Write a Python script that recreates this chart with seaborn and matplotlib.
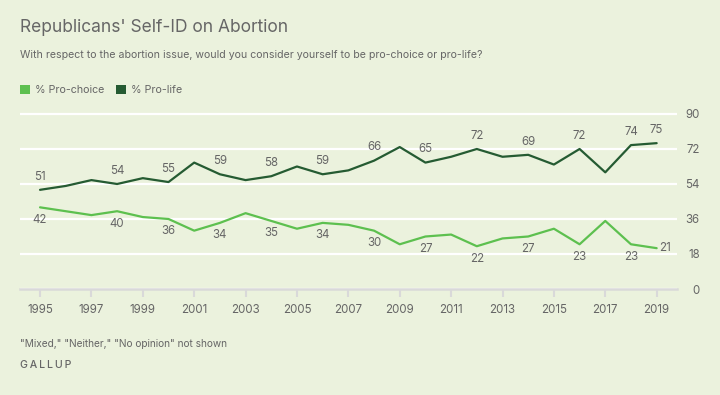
import matplotlib
matplotlib.use('Agg')
import matplotlib.pyplot as plt
import seaborn as sns
import pandas as pd
from matplotlib.patches import Patch

years = list(range(1995, 2020))
pro_choice = [42, 40, 38, 40, 37, 36, 30, 34, 39, 35, 31, 34, 33, 30, 23, 27, 28, 22, 26, 27, 31, 23, 35, 23, 21]
pro_life = [51, 53, 56, 54, 57, 55, 65, 59, 56, 58, 63, 59, 61, 66, 73, 65, 68, 72, 68, 69, 64, 72, 60, 74, 75]
labeled_years = [1995, 1998, 2000, 2002, 2004, 2006, 2008, 2010, 2012, 2014, 2016, 2018, 2019]
y_ticks = [0, 18, 36, 54, 72, 90]
x_ticks = list(range(1995, 2020, 2))

bg = '#EBF2DD'
c_choice = '#5DC04F'
c_life = '#255B32'
grey = '#666666'

df = pd.DataFrame({
    'year': years * 2,
    'pct': pro_choice + pro_life,
    'series': ['% Pro-choice'] * len(years) + ['% Pro-life'] * len(years),
})

sns.set_theme(style='white')
plt.rcParams['font.family'] = ['Inter', 'DejaVu Sans']

fig = plt.figure(figsize=(7.2, 3.95), dpi=100, facecolor=bg)
ax = fig.add_axes([20 / 720, 1 - 289 / 395, 656.7 / 720, 178.9 / 395])
ax.set_facecolor(bg)

sns.lineplot(data=df, x='year', y='pct', hue='series',
             palette={'% Pro-choice': c_choice, '% Pro-life': c_life},
             linewidth=1.6, legend=False, ax=ax, zorder=3)

ax.set_xlim(1994.22, 2019.78)
ax.set_ylim(0, 92)
ax.set_yticks(y_ticks)
ax.set_xticks(x_ticks)
ax.set_xticklabels([str(x) for x in x_ticks])
ax.yaxis.tick_right()
ax.set_yticklabels([str(v) for v in y_ticks], ha='right')
ax.tick_params(axis='y', length=0, pad=16.6, labelsize=8.3, labelcolor=grey)
ax.tick_params(axis='x', length=6, width=1.5, color='#D9D9D9', pad=5,
               labelsize=8.3, labelcolor=grey, bottom=True)
ax.set_xlabel('')
ax.set_ylabel('')
for s in ['top', 'left', 'right']:
    ax.spines[s].set_visible(False)
ax.spines['bottom'].set_color('#D9D9D9')
ax.spines['bottom'].set_linewidth(1.8)
ax.grid(axis='y', color='white', linewidth=1.6, zorder=0)
ax.grid(axis='x', visible=False)
ax.set_axisbelow(True)

# data labels
for yr, pc, pl in zip(years, pro_choice, pro_life):
    if yr not in labeled_years:
        continue
    ax.annotate(str(pl), (yr, pl), xytext=(0, 9.5), textcoords='offset points',
                ha='center', va='center', fontsize=8.3, color=grey)
    if yr == 2019:
        ax.annotate(str(pc), (yr, pc), xytext=(2, 0), textcoords='offset points',
                    ha='left', va='center', fontsize=8.3, color=grey)
    else:
        ax.annotate(str(pc), (yr, pc), xytext=(0, -9), textcoords='offset points',
                    ha='center', va='center', fontsize=8.3, color=grey)

fig.text(20 / 720, 1 - 27 / 395, "Republicans' Self-ID on Abortion", fontsize=12.5,
         color=grey, va='center', ha='left')
fig.text(20 / 720, 1 - 55 / 395,
         'With respect to the abortion issue, would you consider yourself to be pro-choice or pro-life?',
         fontsize=7.6, color=grey, va='center', ha='left')

handles = [Patch(facecolor=c_choice, edgecolor='none'), Patch(facecolor=c_life, edgecolor='none')]
fig.legend(handles, ['% Pro-choice', '% Pro-life'], loc='center left',
           bbox_to_anchor=(20 / 720, 1 - 90 / 395), ncol=2, frameon=False,
           borderaxespad=0, borderpad=0,
           handlelength=0.95, handleheight=0.95, handletextpad=0.45, columnspacing=1.1,
           prop={'size': 7.7}, labelcolor=grey)

fig.text(20 / 720, 1 - 344 / 395, '"Mixed," "Neither," "No opinion" not shown',
         fontsize=7.3, color=grey, va='center', ha='left')
fig.text(20 / 720, 1 - 365 / 395, '\u2009'.join('GALLUP'), fontsize=7.6, color=grey,
         va='center', ha='left', fontweight='medium')

fig.savefig('out.png', dpi=100, facecolor=bg)
